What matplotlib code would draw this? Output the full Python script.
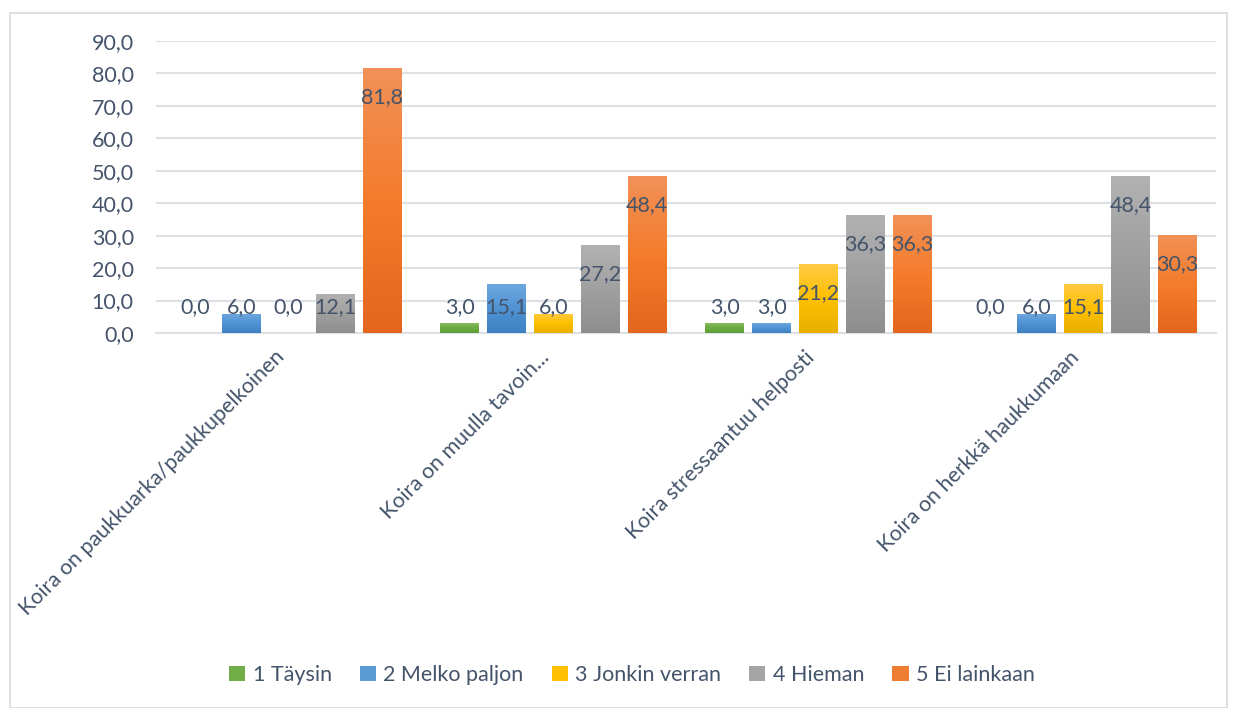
import matplotlib
matplotlib.use("Agg")
import matplotlib.pyplot as plt
import numpy as np
from matplotlib.colors import LinearSegmentedColormap
from matplotlib.patches import Rectangle

categories = ["Koira on paukkuarka/paukkupelkoinen", "Koira on muulla tavoin...",
              "Koira stressaantuu helposti", "Koira on herkkä haukkumaan"]
series_names = ["1 Täysin", "2 Melko paljon", "3 Jonkin verran", "4 Hieman", "5 Ei lainkaan"]
s1 = [0.0, 3.0, 3.0, 0.0]
s2 = [6.0, 15.1, 3.0, 6.0]
s3 = [0.0, 6.0, 21.2, 15.1]
s4 = [12.1, 27.2, 36.3, 48.4]
s5 = [81.8, 48.4, 36.3, 30.3]
series = [s1, s2, s3, s4, s5]
yticks = [0, 10, 20, 30, 40, 50, 60, 70, 80, 90]

# (top, middle, bottom) gradient colours
grads = [("#82BC5A", "#6DAA42", "#5E9E38"),
         ("#6FA8E0", "#5093D4", "#3F82C4"),
         ("#FFCA45", "#FFC000", "#E8AF00"),
         ("#B2B2B2", "#A0A0A0", "#8E8E8E"),
         ("#F19158", "#F47C2C", "#E3661C")]
base_cols = ["#70AD47", "#5B9BD5", "#FFC000", "#A5A5A5", "#ED7D31"]
txt = "#44546A"
fs = 15.5

plt.rcParams['font.family'] = ['Lato', 'DejaVu Sans']

W, H = 1233, 708
fig = plt.figure(figsize=(W / 100, H / 100), dpi=100)
fig.patches.append(Rectangle((10 / W, 0.5 / H), (1227 - 10) / W, (707 - 12) / H,
                             transform=fig.transFigure, fill=False, edgecolor="#D9D9D9",
                             linewidth=1.2, zorder=0))
ax = fig.add_axes([156 / W, 1 - 333 / H, (1216 - 156) / W, (333 - 41) / H])

x = np.arange(len(categories))
step = 0.177
width = 0.147
for i, (vals, name) in enumerate(zip(series, series_names)):
    offs = (i - 2) * step
    bars = ax.bar(x + offs, vals, width, color=base_cols[i], label=name, zorder=2)
    cmap = LinearSegmentedColormap.from_list("g%d" % i, list(grads[i][::-1]))
    for b, v in zip(bars, vals):
        if v > 0:
            grad = np.linspace(0, 1, 256).reshape(-1, 1)
            im = ax.imshow(grad, cmap=cmap, aspect="auto", origin="lower",
                           extent=[b.get_x(), b.get_x() + b.get_width(), 0, v], zorder=3)
            im.set_clip_path(b)
        ly = max(v - 9.0, 8.0)
        ax.text(b.get_x() + b.get_width() / 2, ly,
                f"{v:.1f}".replace(".", ","), ha="center", va="center",
                fontsize=fs, color=txt, zorder=5)

ax.set_xlim(-0.5, len(categories) - 0.5)
ax.set_ylim(0, 90)
ax.set_yticks(yticks)
ax.set_yticklabels([f"{t:.1f}".replace(".", ",") for t in yticks], fontsize=fs, color=txt)
ax.set_xticks(x)
ax.set_xticklabels(categories, rotation=45, ha="right", fontsize=fs, color=txt)
ax.tick_params(axis="both", length=0)
ax.tick_params(axis="y", pad=16)
ax.tick_params(axis="x", pad=10)
ax.grid(axis="y", color="#DDE1E6", linewidth=1.5, zorder=0)
ax.set_axisbelow(True)
for s in ["top", "right", "left"]:
    ax.spines[s].set_visible(False)
ax.spines["bottom"].set_color("#DDE1E6")
ax.spines["bottom"].set_linewidth(1.5)

handles, labels = ax.get_legend_handles_labels()
fig.legend(handles, labels, loc="center", bbox_to_anchor=(632 / W, 1 - 675 / H), ncol=5,
           frameon=False, fontsize=fs, handlelength=0.75, handleheight=0.75,
           handletextpad=0.35, columnspacing=1.3, labelcolor=txt)

fig.savefig("out.png", dpi=100)
